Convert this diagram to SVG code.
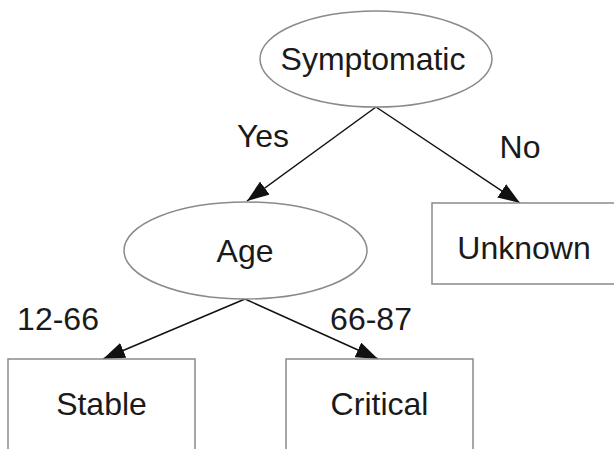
<svg xmlns="http://www.w3.org/2000/svg" width="614" height="449" viewBox="0 0 614 449">
<style>
.node{fill:#fff;stroke:#8a8a8a;stroke-width:1.5}
.lbl{font-family:"Liberation Sans",Arial,sans-serif;font-size:32px;fill:#1a1a1a;text-anchor:middle}
.edge{stroke:#111;stroke-width:1.5;fill:none;marker-end:url(#ah)}
</style>
<defs>
<marker id="ah" markerWidth="22" markerHeight="16" refX="22" refY="8" orient="auto" markerUnits="userSpaceOnUse">
<path d="M0,0 L22,8 L0,16 Z" fill="#111"/>
</marker>
</defs>
<g id="connectors">
<line class="edge" x1="376" y1="107" x2="247" y2="201"/>
<line class="edge" x1="376" y1="107" x2="520" y2="203"/>
<line class="edge" x1="245" y1="299" x2="103" y2="359"/>
<line class="edge" x1="245" y1="299" x2="378" y2="359"/>
<text class="lbl" x="263" y="147">Yes</text>
<text class="lbl" x="520" y="158">No</text>
<text class="lbl" x="58" y="330">12-66</text>
<text class="lbl" x="371" y="330">66-87</text>
</g>
<g id="symptomatic">
<ellipse class="node" cx="376" cy="59" rx="116" ry="48"/>
<text class="lbl" x="373" y="70">Symptomatic</text>
</g>
<g id="age">
<ellipse class="node" cx="245.5" cy="250.5" rx="121.5" ry="48.5"/>
<text class="lbl" x="245" y="262">Age</text>
</g>
<g id="unknown">
<rect class="node" x="432" y="203" width="190" height="81"/>
<text class="lbl" x="524" y="259">Unknown</text>
</g>
<g id="stable">
<rect class="node" x="8" y="359" width="187" height="100"/>
<text class="lbl" x="101.5" y="415">Stable</text>
</g>
<g id="critical">
<rect class="node" x="286" y="359" width="187" height="100"/>
<text class="lbl" x="379.5" y="415">Critical</text>
</g>
</svg>
